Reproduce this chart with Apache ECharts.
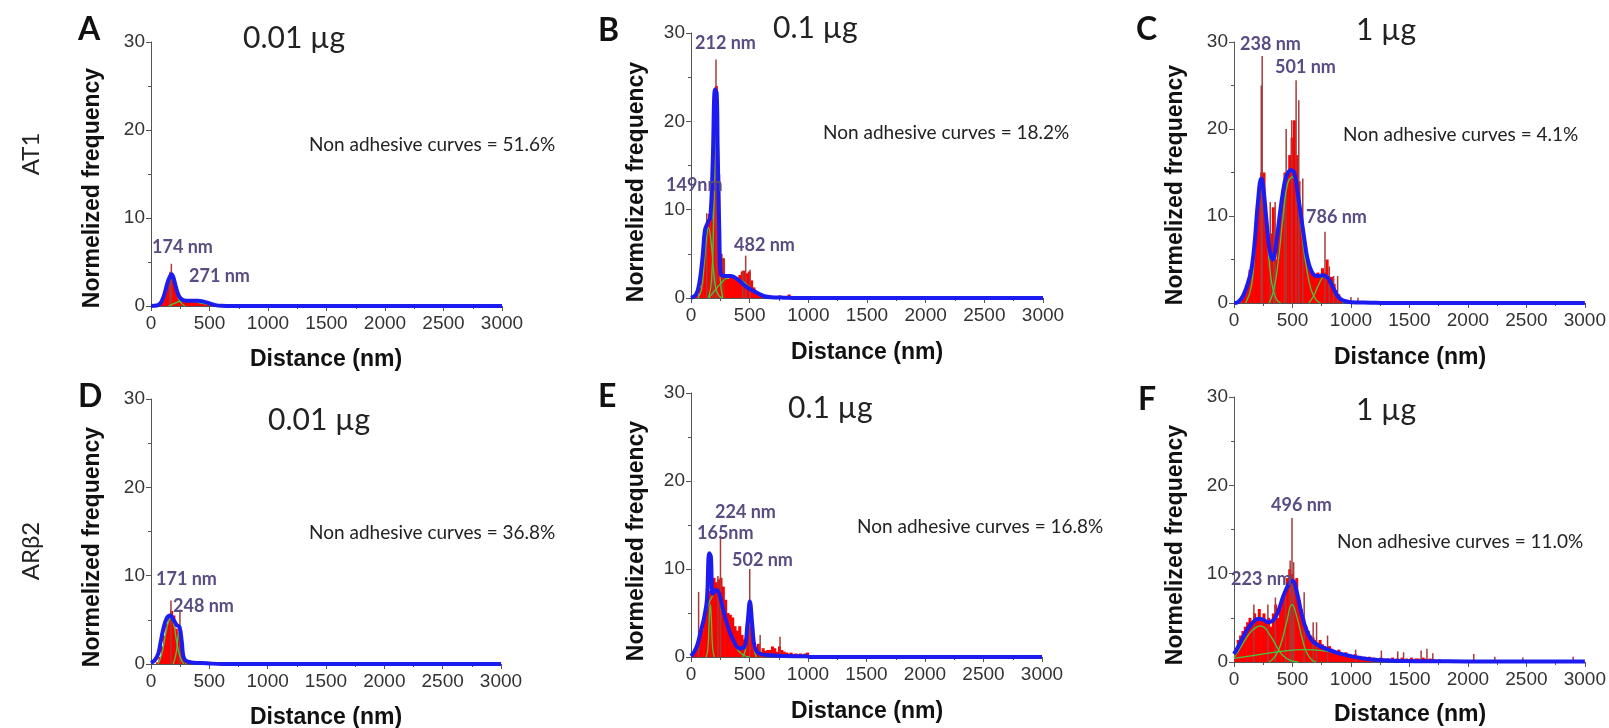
<!DOCTYPE html>
<html><head><meta charset="utf-8">
<script src="https://cdn.jsdelivr.net/npm/echarts@6/dist/echarts.min.js"></script>
<style>html,body{margin:0;padding:0;background:#fff}#c{width:1609px;height:728px}</style>
</head><body><div id="c"></div>
<script>
// ---------------- DATA ----------------
const xTicks = [0, 500, 1000, 1500, 2000, 2500, 3000];
const yTicks = [0, 10, 20, 30];
const panelLetters = ['A', 'B', 'C', 'D', 'E', 'F'];
const doseLabels = ['0.01 µg', '0.1 µg', '1 µg', '0.01 µg', '0.1 µg', '1 µg'];
const rowLabels = ['AT1', 'ARβ2'];
const nonAdhesive = ['51.6%', '18.2%', '4.1%', '36.8%', '16.8%', '11.0%'];
const peakLabelsA = ['174 nm', '271 nm'];
const peakLabelsB = ['212 nm', '149nm', '482 nm'];
const peakLabelsC = ['238 nm', '501 nm', '786 nm'];
const peakLabelsD = ['171 nm', '248 nm'];
const peakLabelsE = ['224 nm', '165nm', '502 nm'];
const peakLabelsF = ['496 nm', '223 nm'];

// Panel A
const histA = [[10,0],[30,0],[50,0.1],[70,0.3],[90,0.7],[110,1.4],[130,2.3],[150,3.1],[170,3.6],[190,3.0],[210,2.0],[230,1.2],[250,0.8],[270,0.7],[290,0.6],[310,0.6],[330,0.5],[350,0.6],[370,0.5],[390,0.6],[410,0.5],[430,0.5],[450,0.4],[470,0.3],[490,0.2],[510,0.1],[530,0.1]];
const spikesA = [[174,4.8],[162,3.9]];
const fitA = [[0,0],[50,0.05],[80,0.3],[100,0.8],[120,1.6],[140,2.6],[160,3.3],[175,3.6],[190,3.3],[210,2.3],[230,1.4],[250,0.9],[270,0.7],[300,0.6],[350,0.6],[400,0.6],[450,0.5],[500,0.3],[550,0.1],[600,0.02],[700,0],[3000,0]];
const compA1 = [[60,0],[90,0.3],[120,1.2],[150,2.6],[174,3.2],[200,2.5],[230,1.0],[260,0.3],[290,0]];
const compA2 = [[150,0],[200,0.3],[250,0.55],[271,0.6],[320,0.55],[380,0.45],[440,0.3],[500,0.15],[560,0.05],[600,0]];

// Panel B
const histB = [[10,0],[30,0.1],[50,0.3],[70,1.2],[90,3.0],[110,5.5],[130,8.0],[150,9.5],[170,9.0],[190,14],[210,24],[230,14],[250,5],[270,4.5],[290,2.5],[310,2.2],[330,2.4],[350,2.3],[370,2.2],[390,2.3],[410,2.6],[430,3.0],[450,3.1],[470,2.8],[490,3.0],[510,2.0],[530,1.2],[550,0.8],[570,0.5],[590,0.3],[610,0.2],[650,0.1],[730,0.1],[750,0.3],[790,0.1],[830,0.4]];
const spikesB = [[213,27],[189,10.9],[134,9.6],[272,4.5],[440,3.1],[466,4.8],[503,3.2]];
const fitB = [[0,0],[43,0.4],[71,1.7],[99,4.7],[119,7.7],[142,8.5],[165,9.2],[185,15.3],[205,23.6],[219,23.2],[227,17.2],[241,7.7],[256,2.6],[298,2.5],[341,2.5],[398,2.1],[469,1.3],[540,0.75],[625,0.2],[710,0.07],[795,0.04],[900,0],[3000,0]];
const compB1 = [[60,0],[90,1],[110,3.5],[130,6.5],[149,8],[170,6.5],[190,3.5],[210,1.2],[240,0.2],[270,0]];
const compB2 = [[150,0],[175,2],[195,10],[212,20],[230,10],[250,2],[270,0]];
const compB3 = [[150,0],[200,0.8],[250,1.6],[300,2.2],[350,2.4],[400,2.2],[450,1.8],[500,1.2],[550,0.7],[600,0.3],[650,0.1],[700,0]];

// Panel C
const histC = [[50,0.1],[70,0.5],[90,1.5],[110,2.2],[130,3.8],[150,4.0],[170,6.5],[190,10],[210,13],[230,15],[250,15],[270,10],[290,7],[310,8],[330,11],[350,5],[370,8],[390,10],[410,13],[430,15],[450,15],[470,17],[490,19],[510,21],[530,17],[550,14],[570,9],[590,7],[610,5],[630,4.5],[650,4],[670,3.5],[690,3],[710,3.5],[730,3],[750,4],[770,3.5],[790,5],[810,3],[830,3],[850,2.2],[870,1.5],[890,1],[910,0.5],[930,0.3],[950,0.4],[1010,0.2],[1050,0.2],[1090,0.2],[1130,0.1]];
const spikesC = [[241,28.4],[233,25],[310,11.6],[341,8.2],[352,11.6],[432,14.9],[446,20],[494,21],[531,25.6],[554,23.3],[588,14.3],[778,8.2],[815,4.2],[852,3.1],[886,3.1],[1000,0.7],[1060,0.6]];
const fitC = [[0,0],[34,0.1],[77,0.8],[119,2.3],[148,3.8],[176,6.9],[204,11.5],[233,14.3],[247,13.7],[275,9.9],[304,6.1],[332,5.0],[361,6.9],[389,9.9],[417,12.6],[446,14.5],[488,15.3],[517,14.9],[545,12.6],[574,9.9],[602,7.3],[630,5.0],[673,3.4],[716,3.1],[758,3.2],[801,2.9],[843,1.9],[886,0.8],[929,0.3],[1000,0.1],[1170,0.04],[1300,0],[3000,0]];
const compC1 = [[100,0],[150,2],[190,8],[238,13.5],[280,8],[320,2.5],[360,0.5],[400,0]];
const compC2 = [[300,0],[340,1.5],[380,5],[420,10],[460,13.8],[501,14.5],[540,12.5],[580,8],[620,4],[660,1.5],[700,0.4],[740,0]];
const compC3 = [[640,0],[680,0.8],[720,2],[760,3],[786,3.2],[820,2.7],[860,1.5],[900,0.5],[940,0]];

// Panel D
const histD = [[50,0.2],[70,0.8],[90,2],[110,3.2],[130,4.5],[150,5.5],[170,6.0],[190,5.5],[210,4.0],[230,3.6],[250,3.0],[270,1.2],[290,0.4],[310,0.2],[350,0.3],[390,0.2]];
const spikesD = [[171,7.2],[248,5.9]];
const fitD = [[0,0.1],[34,0.45],[63,1.2],[83,2.5],[106,4.0],[135,5.2],[164,5.5],[193,5.0],[221,4.4],[244,4.2],[264,2.5],[279,0.8],[307,0.3],[365,0.15],[480,0.08],[600,0],[3000,0]];
const compD1 = [[60,0],[90,1],[120,3],[150,4.8],[171,5.2],[195,4.5],[220,2.5],[250,0.8],[280,0]];
const compD2 = [[190,0],[215,1.2],[235,3.5],[248,4],[262,3],[280,1],[300,0]];

// Panel E
const histE = [[10,0.2],[30,0.5],[50,1.2],[70,2.0],[90,3.0],[110,5.0],[130,6.5],[150,7.5],[170,8.5],[190,9.0],[210,8.5],[230,8.8],[250,9.0],[270,8.0],[290,6.5],[310,5.0],[330,4.8],[350,4.5],[370,3.5],[390,3.0],[410,3.5],[430,2.5],[450,2.0],[470,3.0],[490,4.5],[510,3.5],[530,1.0],[550,0.8],[570,1.5],[590,0.6],[610,1.0],[630,0.7],[650,0.8],[670,0.8],[690,1.2],[710,1.0],[730,0.6],[750,1.2],[770,0.8],[790,0.6],[810,0.5],[830,0.4],[850,0.5],[870,0.3],[890,0.4],[910,0.3],[930,0.4],[950,0.3],[970,0.4],[990,0.5]];
const spikesE = [[65,7.4],[252,13.8],[230,9.2],[502,10],[591,2.5],[761,2.3]];
const fitE = [[0,0.1],[28,0.6],[57,1.5],[85,3.0],[114,4.6],[136,6.5],[156,11.8],[170,11.4],[185,7.2],[213,7.6],[241,7.2],[270,5.7],[298,4.2],[327,3.0],[369,1.7],[412,1.0],[454,1.1],[483,3.8],[503,6.3],[525,3.4],[545,1.1],[582,0.4],[682,0.2],[795,0.1],[994,0.08],[1010,0],[3000,0]];
const compE1 = [[130,0],[145,1],[155,4],[165,6],[175,4],[185,1],[200,0]];
const compE2 = [[0,0.3],[50,1.2],[100,3.5],[150,6],[200,7.3],[224,7.5],[260,6.8],[300,4.5],[350,2.2],[400,0.8],[450,0.2],[500,0]];
const compE3 = [[440,0],[465,0.8],[485,3.5],[502,6],[520,3.5],[540,0.8],[560,0]];

// Panel F
const histF = [[10,1.5],[30,2.5],[50,3.0],[70,3.5],[90,4.0],[110,4.5],[130,5.0],[150,4.5],[170,5.5],[190,5.0],[210,6.0],[230,5.0],[250,5.5],[270,4.5],[290,5.0],[310,4.0],[330,5.5],[350,6.5],[370,5.0],[390,6.0],[410,7.5],[430,8.0],[450,9.5],[470,10.5],[490,10.0],[510,9.0],[530,9.5],[550,7.0],[570,6.0],[590,5.0],[610,4.0],[630,3.5],[650,3.0],[670,2.8],[690,2.5],[710,2.2],[730,2.5],[750,2.0],[770,1.8],[790,1.6],[810,1.8],[830,1.5],[850,1.3],[870,1.2],[890,1.4],[910,1.0],[930,1.0],[950,1.1],[970,0.9],[990,0.8],[1010,0.8],[1030,0.9],[1050,0.6],[1070,0.7],[1090,0.5],[1110,0.6],[1130,0.5],[1150,0.6],[1170,0.4],[1190,0.5],[1210,0.4],[1230,0.3],[1250,0.5],[1270,0.4],[1290,0.3],[1310,0.4],[1330,0.3],[1350,0.5],[1370,0.3],[1390,0.4],[1410,0.3],[1430,0.5],[1450,0.3],[1470,0.4],[1490,0.3],[1510,0.5],[1530,0.3],[1550,0.4],[1570,0.4],[1590,0.3],[1610,0.5],[1630,0.4],[1650,0.3],[1670,0.4],[1690,0.3],[1710,0.3],[1730,0.2],[1750,0.3],[1770,0.2],[1810,0.2],[1870,0.1],[1950,0.2],[2030,0.1],[2110,0.2],[2210,0.1],[2330,0.2],[2450,0.1],[2570,0.1],[2690,0.2],[2810,0.1],[2890,0.2]];
const spikesF = [[170,6.5],[290,6.5],[354,7.3],[440,7.5],[480,11.5],[496,16.3],[510,11.3],[600,7.9],[677,4.5],[706,4.5],[800,3.0],[1040,1.4],[1260,1.3],[1400,1.2],[1450,1.1],[1600,1.3],[1650,1.5],[1700,1.0],[2050,0.9],[2230,0.6],[2470,0.5],[2900,0.6]];
const fitF = [[0,0.9],[34,1.7],[77,2.8],[120,3.8],[163,4.5],[206,4.9],[249,4.8],[291,4.5],[334,4.7],[377,5.7],[420,7.4],[463,8.7],[500,9.2],[534,8.1],[577,5.5],[620,3.6],[663,2.5],[720,1.9],[806,1.4],[891,1.0],[1006,0.64],[1120,0.38],[1263,0.19],[1463,0.11],[1691,0.08],[1977,0.07],[2434,0.07],[3000,0.05]];
const compF1 = [[0,0.5],[50,1.5],[100,2.6],[150,3.5],[200,4.0],[223,4.1],[260,3.9],[300,3.2],[350,2.1],[400,1.0],[450,0.4],[500,0.1],[550,0]];
const compF2 = [[300,0],[350,0.6],[400,2.0],[450,4.5],[496,6.5],[540,5.0],[580,2.8],[620,1.1],[660,0.3],[700,0]];
const compF3 = [[0,0.4],[200,0.8],[400,1.2],[600,1.4],[800,1.2],[1000,0.7],[1200,0.3],[1400,0.1],[1600,0]];

// ---------------- LAYOUT ----------------
const grids = [
  {left:151, top:42, width:351, height:264},
  {left:691, top:33, width:352, height:265},
  {left:1234, top:42, width:353, height:261},
  {left:151, top:399, width:350, height:265},
  {left:691, top:393, width:351, height:264},
  {left:1234, top:397, width:352, height:265}
];
const panels = [
  {hist:histA, spikes:spikesA, fit:fitA, comps:[compA1, compA2]},
  {hist:histB, spikes:spikesB, fit:fitB, comps:[compB1, compB2, compB3]},
  {hist:histC, spikes:spikesC, fit:fitC, comps:[compC1, compC2, compC3]},
  {hist:histD, spikes:spikesD, fit:fitD, comps:[compD1, compD2]},
  {hist:histE, spikes:spikesE, fit:fitE, comps:[compE1, compE2, compE3]},
  {hist:histF, spikes:spikesF, fit:fitF, comps:[compF1, compF2, compF3]}
];
const letterPos = [[78,30],[598,31],[1136,30],[78,397],[598,397],[1138,400]];
const dosePos = [[243,38],[773,28],[1356,30],[268,420],[788,408],[1356,410]];
const naPos = [[309,145],[823,133],[1343,135],[309,533],[857,527],[1337,542]];
const yTitlePos = [[93,188],[637,182],[1176,185],[93,547],[637,541],[1176,545]];
const xTitlePos = [[326,360],[867,353],[1410,358],[326,718],[867,712],[1410,715]];
const peakText = [peakLabelsA, peakLabelsB, peakLabelsC, peakLabelsD, peakLabelsE, peakLabelsF];
const peakPos = [
  [[152,247],[189,276]],
  [[695,43],[666,185],[734,245]],
  [[1240,44],[1275,67],[1306,217]],
  [[156,579],[173,606]],
  [[715,512],[697,533],[732,560]],
  [[1271,505],[1231,579]]
];
const rowPos = [[31,154],[31,551]];

const AX = '#555';
const xAxes = [], yAxes = [], series = [], graphics = [];
grids.forEach((g, i) => {
  xAxes.push({
    gridIndex:i, type:'value', min:xTicks[0], max:xTicks[xTicks.length-1], interval:500,
    axisLine:{show:true, onZero:false, lineStyle:{color:AX, width:1}},
    axisTick:{show:true, inside:false, length:5, lineStyle:{color:AX}},
    minorTick:{show:true, splitNumber:2, length:3, lineStyle:{color:AX}},
    splitLine:{show:false},
    axisLabel:{color:'#333', fontSize:19, fontFamily:'Liberation Sans', margin:8, formatter: v => String(v)}
  });
  yAxes.push({
    gridIndex:i, type:'value', min:yTicks[0], max:yTicks[yTicks.length-1], interval:10,
    axisLine:{show:true, lineStyle:{color:AX, width:1}},
    axisTick:{show:true, inside:false, length:5, lineStyle:{color:AX}},
    minorTick:{show:true, splitNumber:2, length:3, lineStyle:{color:AX}},
    splitLine:{show:false},
    axisLabel:{color:'#333', fontSize:19, fontFamily:'Liberation Sans', margin:6, formatter: v => String(v)}
  });
  const p = panels[i];
  series.push({type:'bar', xAxisIndex:i, yAxisIndex:i, data:p.hist, barWidth:3, barGap:'-100%', itemStyle:{color:'#ff0000'}, silent:true});
  series.push({type:'bar', xAxisIndex:i, yAxisIndex:i, data:p.spikes, barWidth:1.5, barGap:'-100%', itemStyle:{color:'#a83a3a'}, silent:true});
  p.comps.forEach(c => series.push({type:'line', xAxisIndex:i, yAxisIndex:i, data:c, smooth:0.5, symbol:'none', lineStyle:{color:'#3ccc3c', width:1.3}, silent:true}));
  series.push({type:'line', xAxisIndex:i, yAxisIndex:i, data:p.fit, smooth:0.4, symbol:'none', lineStyle:{color:'#1c1cf0', width:4}, silent:true});

  graphics.push({type:'text', x:letterPos[i][0], y:letterPos[i][1], style:{text:panelLetters[i], fontFamily:'Lato', fontWeight:'bold', fontSize:32, fill:'#111', verticalAlign:'middle', align:'left'}});
  graphics.push({type:'text', x:dosePos[i][0], y:dosePos[i][1], style:{text:doseLabels[i], fontFamily:'Lato', fontSize:30, fill:'#222', verticalAlign:'middle', align:'left'}});
  graphics.push({type:'text', x:naPos[i][0], y:naPos[i][1], style:{text:'Non adhesive curves = ' + nonAdhesive[i], fontFamily:'Lato', fontSize:19, fill:'#222', verticalAlign:'middle', align:'left'}});
  graphics.push({type:'text', x:yTitlePos[i][0], y:yTitlePos[i][1], rotation:Math.PI/2, style:{text:'Normelized frequency', fontFamily:'Liberation Sans', fontWeight:'bold', fontSize:23, fill:'#111', verticalAlign:'middle', align:'center'}});
  graphics.push({type:'text', x:xTitlePos[i][0], y:xTitlePos[i][1], style:{text:'Distance (nm)', fontFamily:'Liberation Sans', fontWeight:'bold', fontSize:23, fill:'#111', verticalAlign:'middle', align:'center'}});
  peakText[i].forEach((t, k) => graphics.push({type:'text', x:peakPos[i][k][0], y:peakPos[i][k][1], z:100, style:{text:t, fontFamily:'Lato', fontWeight:'bold', fontSize:18, fill:'#5a4c82', verticalAlign:'middle', align:'left'}}));
});
rowLabels.forEach((t, r) => graphics.push({type:'text', x:rowPos[r][0], y:rowPos[r][1], rotation:Math.PI/2, style:{text:t, fontFamily:'Lato', fontSize:24, fill:'#222', verticalAlign:'middle', align:'center'}}));

const chart = echarts.init(document.getElementById('c'), null, {renderer:'canvas'});
chart.setOption({
  animation:false,
  backgroundColor:'#fff',
  grid: grids,
  xAxis: xAxes,
  yAxis: yAxes,
  series: series,
  graphic: graphics
});
</script></body></html>
